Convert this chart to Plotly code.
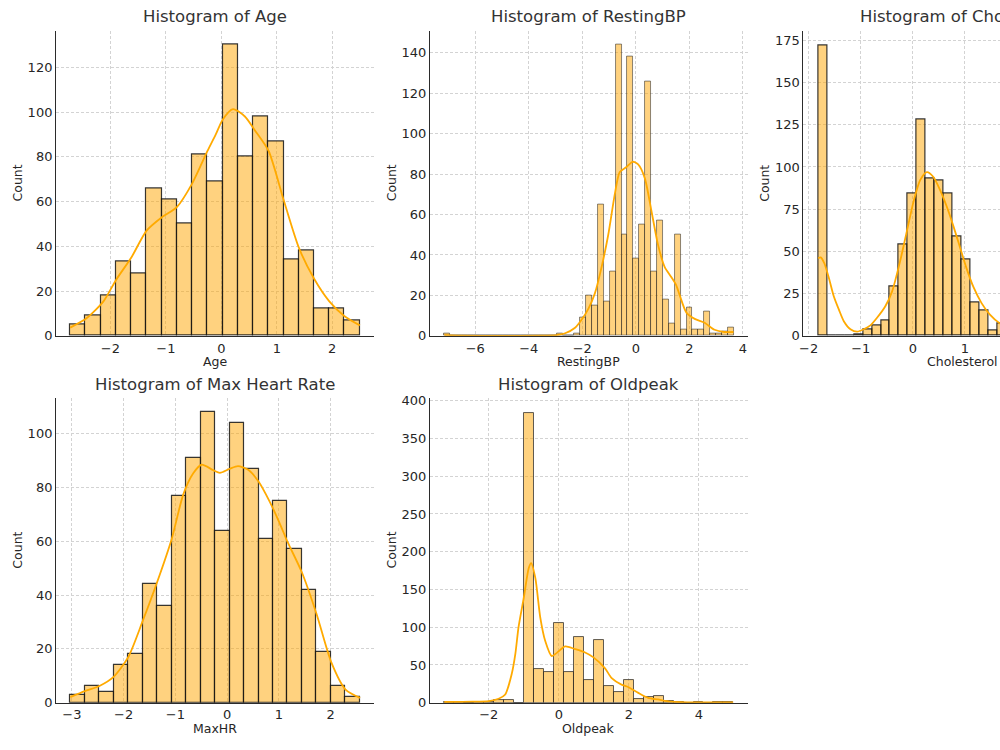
import numpy as np
import plotly.graph_objects as go

# ---------------- data ----------------
# Age
age_bin_start = -2.724
age_bin_width = 0.2748
age_counts = [5, 9, 18, 33, 28, 66, 61, 50, 81, 69, 130, 80, 98, 87, 34, 38, 12, 12, 7]
age_kde_x = [-2.725, -2.426, -2.126, -1.899, -1.623, -1.348, -1.072, -0.803, -0.527, -0.252,
             -0.10, 0.024, 0.21, 0.425, 0.60, 0.851, 1.12, 1.396, 1.671, 1.947, 2.222, 2.498]
age_kde_y = [3.7, 8.0, 15.4, 25, 35, 47, 53, 57.5, 68, 82.5,
             90, 96.6, 101.3, 98, 92, 82.7, 61, 39.5, 25.6, 15.4, 8.8, 4.7]

# RestingBP (49 bins)
bp_bin_start = -7.151
bp_bin_width = 0.22061
bp_counts = [1, 0, 0, 0, 0, 0, 0, 0, 0, 0, 0, 0, 0, 0, 0, 0, 0, 0, 0, 1, 0, 0,
             1, 9, 20, 15, 65, 17, 32, 144, 50, 138, 38, 55, 126, 32, 57, 18, 6, 50,
             3, 14, 3, 3, 12, 1, 1, 2, 4]
bp_kde_x = [-7.15, -6.5, -5.0, -3.5, -2.95, -2.64, -2.27, -2.02, -1.77, -1.53, -1.28, -1.03,
            -0.78, -0.60, -0.35, -0.12, 0.087, 0.335, 0.58, 0.83, 1.08, 1.33, 1.51, 1.64,
            1.89, 2.20, 2.57, 2.94, 3.31, 3.65]
bp_kde_y = [0.3, 0.05, 0.0, 0.05, 0.4, 1.3, 4, 8.1, 13.5, 21, 34, 50,
            70.5, 81, 83.5, 86.1, 84.8, 78, 62, 45, 34, 29, 25, 20,
            11.5, 8.4, 6.5, 3.0, 1.9, 1.9]

# Cholesterol (32 bins)
chol_bin_start = -1.818
chol_bin_width = 0.1723
chol_counts = [172, 0, 0, 0, 1, 4, 6, 9, 29, 54, 84, 128, 93, 92, 84, 59, 45, 20, 15, 3,
               7, 4, 3, 2, 1, 1, 0, 1, 0, 0, 0, 1]
chol_kde_x = [-1.818, -1.77, -1.70, -1.61, -1.517, -1.42, -1.326, -1.198, -1.07, -0.943,
              -0.816, -0.688, -0.529, -0.40, -0.242, -0.115, 0.013, 0.14, 0.268, 0.395,
              0.523, 0.65, 0.778, 0.905, 1.032, 1.16, 1.319, 1.479, 1.67, 1.9, 2.3, 3.0, 3.7]
chol_kde_y = [46, 46.5, 43, 34, 23.3, 15.5, 8.7, 3.9, 2.5, 3.9,
              6.2, 10.7, 17.5, 26.2, 44.6, 62, 79.5, 92.2, 97, 94.1,
              86.3, 76.6, 65, 52.4, 39.8, 29.1, 19.4, 12.6, 7.4, 4.2, 2.2, 0.8, 0.3]

# MaxHR (20 bins)
hr_bin_start = -3.03
hr_bin_width = 0.2799
hr_counts = [3, 6, 4, 14, 18, 44, 36, 77, 91, 108, 64, 104, 87, 61, 75, 57, 42, 19, 6, 2]
hr_kde_x = [-3.03, -2.75, -2.46, -2.19, -1.91, -1.63, -1.35, -1.07, -0.85, -0.655, -0.494,
            -0.27, -0.14, 0.05, 0.21, 0.40, 0.61, 0.82, 1.01, 1.17, 1.44, 1.73, 2.01, 2.29, 2.57]
hr_kde_y = [2.1, 4.3, 6.3, 9.7, 17, 30.5, 45, 61, 77.3, 85.3, 88.5,
            86.5, 85.5, 87, 88, 86.7, 82.2, 74.9, 67, 59.7, 48.7, 32.9, 15.2, 4.9, 1.8]

# Oldpeak (29 bins)
op_bin_start = -3.2715
op_bin_width = 0.28466
op_counts = [1, 1, 0, 1, 1, 4, 3, 0, 384, 44, 40, 106, 40, 87, 30, 83, 22, 14, 30, 5,
             7, 9, 2, 1, 0, 1, 0, 1, 1]
op_kde_x = [-3.27, -2.47, -2.0, -1.72, -1.53, -1.34, -1.24, -1.15, -1.0, -0.86, -0.79, -0.67,
            -0.53, -0.39, -0.2, -0.057, 0.18, 0.46, 0.75, 0.99, 1.32, 1.51, 1.79, 1.98,
            2.27, 2.55, 2.83, 3.21, 3.69, 4.16, 4.98]
op_kde_y = [0.9, 1.3, 2.2, 5.2, 10.8, 39, 65, 100, 139, 178, 185, 165,
            113, 82, 61.6, 66, 74.6, 71, 66.5, 60, 45.5, 32.5, 23.9, 20.8,
            13, 6.5, 4.3, 1.3, 0.4, 0.3, 0.3]

panels = [
    dict(title="Histogram of Age", xlabel="Age", start=age_bin_start, width=age_bin_width,
         counts=age_counts, kx=age_kde_x, ky=age_kde_y),
    dict(title="Histogram of RestingBP", xlabel="RestingBP", start=bp_bin_start, width=bp_bin_width,
         counts=bp_counts, kx=bp_kde_x, ky=bp_kde_y),
    dict(title="Histogram of Cholesterol", xlabel="Cholesterol", start=chol_bin_start,
         width=chol_bin_width, counts=chol_counts, kx=chol_kde_x, ky=chol_kde_y),
    dict(title="Histogram of Max Heart Rate", xlabel="MaxHR", start=hr_bin_start, width=hr_bin_width,
         counts=hr_counts, kx=hr_kde_x, ky=hr_kde_y),
    dict(title="Histogram of Oldpeak", xlabel="Oldpeak", start=op_bin_start, width=op_bin_width,
         counts=op_counts, kx=op_kde_x, ky=op_kde_y),
]

# tick values / labels
x_ticks = [[-2, -1, 0, 1, 2], [-6, -4, -2, 0, 2, 4], [-2, -1, 0, 1, 2, 3],
           [-3, -2, -1, 0, 1, 2], [-2, 0, 2, 4]]
y_ticks = [[0, 20, 40, 60, 80, 100, 120], [0, 20, 40, 60, 80, 100, 120, 140],
           [0, 25, 50, 75, 100, 125, 150, 175], [0, 20, 40, 60, 80, 100],
           [0, 50, 100, 150, 200, 250, 300, 350, 400]]

# ---------------- layout geometry (pixels in a 1000x750 canvas) ----------------
W, H = 1000, 750
boxes = [  # (x0, x1, ytop, ybottom)
    (52.3, 371.7, 26.0, 336.7),
    (427.7, 746.7, 26.0, 336.7),
    (802.7, 1121.7, 26.0, 336.7),
    (52.3, 371.7, 400.0, 710.0),
    (427.7, 746.7, 400.0, 710.0),
]
x_ranges = [[-2.98, 2.757], [-7.69, 4.18], [-2.10, 4.0], [-3.306, 2.843], [-3.678, 5.393]]
y_ranges = [[0, 136.4], [0, 151.0], [0, 180.8], [0, 113.3], [0, 403.5]]
edge_styles = [("rgba(20,20,20,0.85)", 1.2), ("rgba(40,40,40,0.6)", 0.9),
               ("rgba(20,20,20,0.85)", 1.2), ("rgba(20,20,20,0.85)", 1.2),
               ("rgba(40,40,40,0.75)", 1.0)]

BAR_FILL = "rgba(255,165,0,0.5)"
LINE_COL = "#FFAA00"
FONT = "DejaVu Sans"
TICK_COL = "#262626"
TITLE_COL = "#333333"


def fmt(v):
    s = str(v)
    return s.replace("-", "\u2212")


fig = go.Figure()
annotations = []
layout_axes = {}

for i, p in enumerate(panels):
    n = i + 1
    xa = "x" if n == 1 else f"x{n}"
    ya = "y" if n == 1 else f"y{n}"
    counts = np.array(p["counts"], dtype=float)
    centers = p["start"] + p["width"] * (np.arange(len(counts)) + 0.5)
    ec, ew = edge_styles[i]
    fig.add_trace(go.Bar(x=centers, y=counts, width=p["width"], xaxis=xa, yaxis=ya,
                         marker=dict(color=BAR_FILL, line=dict(color=ec, width=ew)),
                         showlegend=False, hoverinfo="skip"))
    fig.add_trace(go.Scatter(x=p["kx"], y=p["ky"], mode="lines", xaxis=xa, yaxis=ya,
                             line=dict(color=LINE_COL, width=1.8, shape="spline", smoothing=0.7),
                             showlegend=False, hoverinfo="skip"))

    x0, x1, yt, yb = boxes[i]
    xdom = [x0 / W, min(x1 / W, 1.0)]
    xr = list(x_ranges[i])
    if x1 > W:  # panel cut off at the right edge of the canvas
        frac = (W - x0) / (x1 - x0)
        xr = [xr[0], xr[0] + (xr[1] - xr[0]) * frac]
    ydom = [1 - yb / H, 1 - yt / H]

    axis_common = dict(showline=True, linecolor="#2b2b2b", linewidth=1.1, mirror=False,
                       showgrid=True, gridcolor="#d3d3d3", gridwidth=0.8, griddash="3px,2px",
                       zeroline=False, ticks="", tickfont=dict(family=FONT, size=13, color=TICK_COL),
                       fixedrange=True)
    xkey = "xaxis" if n == 1 else f"xaxis{n}"
    ykey = "yaxis" if n == 1 else f"yaxis{n}"
    layout_axes[xkey] = dict(axis_common, domain=xdom, range=xr, anchor=ya,
                             tickmode="array", tickvals=x_ticks[i],
                             ticktext=[fmt(v) for v in x_ticks[i]])
    layout_axes[ykey] = dict(axis_common, domain=ydom, range=y_ranges[i], anchor=xa,
                             tickmode="array", tickvals=y_ticks[i],
                             ticktext=[fmt(v) for v in y_ticks[i]])

    cx = (x0 + x1) / 2
    # title
    annotations.append(dict(text=p["title"], x=cx / W, y=1 - (yt - 14) / H, xref="paper", yref="paper",
                            xanchor="center", yanchor="middle", showarrow=False,
                            font=dict(family=FONT, size=16.5, color=TITLE_COL)))
    # x label
    annotations.append(dict(text=p["xlabel"], x=cx / W, y=1 - (yb + 26) / H, xref="paper", yref="paper",
                            xanchor="center", yanchor="middle", showarrow=False,
                            font=dict(family=FONT, size=12.5, color=TICK_COL)))
    # y label
    annotations.append(dict(text="Count", x=(x0 - 39) / W, y=1 - ((yt + yb) / 2) / H,
                            xref="paper", yref="paper", xanchor="center", yanchor="middle",
                            textangle=-90, showarrow=False,
                            font=dict(family=FONT, size=12.5, color=TICK_COL)))

fig.update_layout(width=W, height=H, margin=dict(l=0, r=0, t=0, b=0),
                  paper_bgcolor="white", plot_bgcolor="white", bargap=0,
                  annotations=annotations, **layout_axes)

fig.write_html("out.html")
